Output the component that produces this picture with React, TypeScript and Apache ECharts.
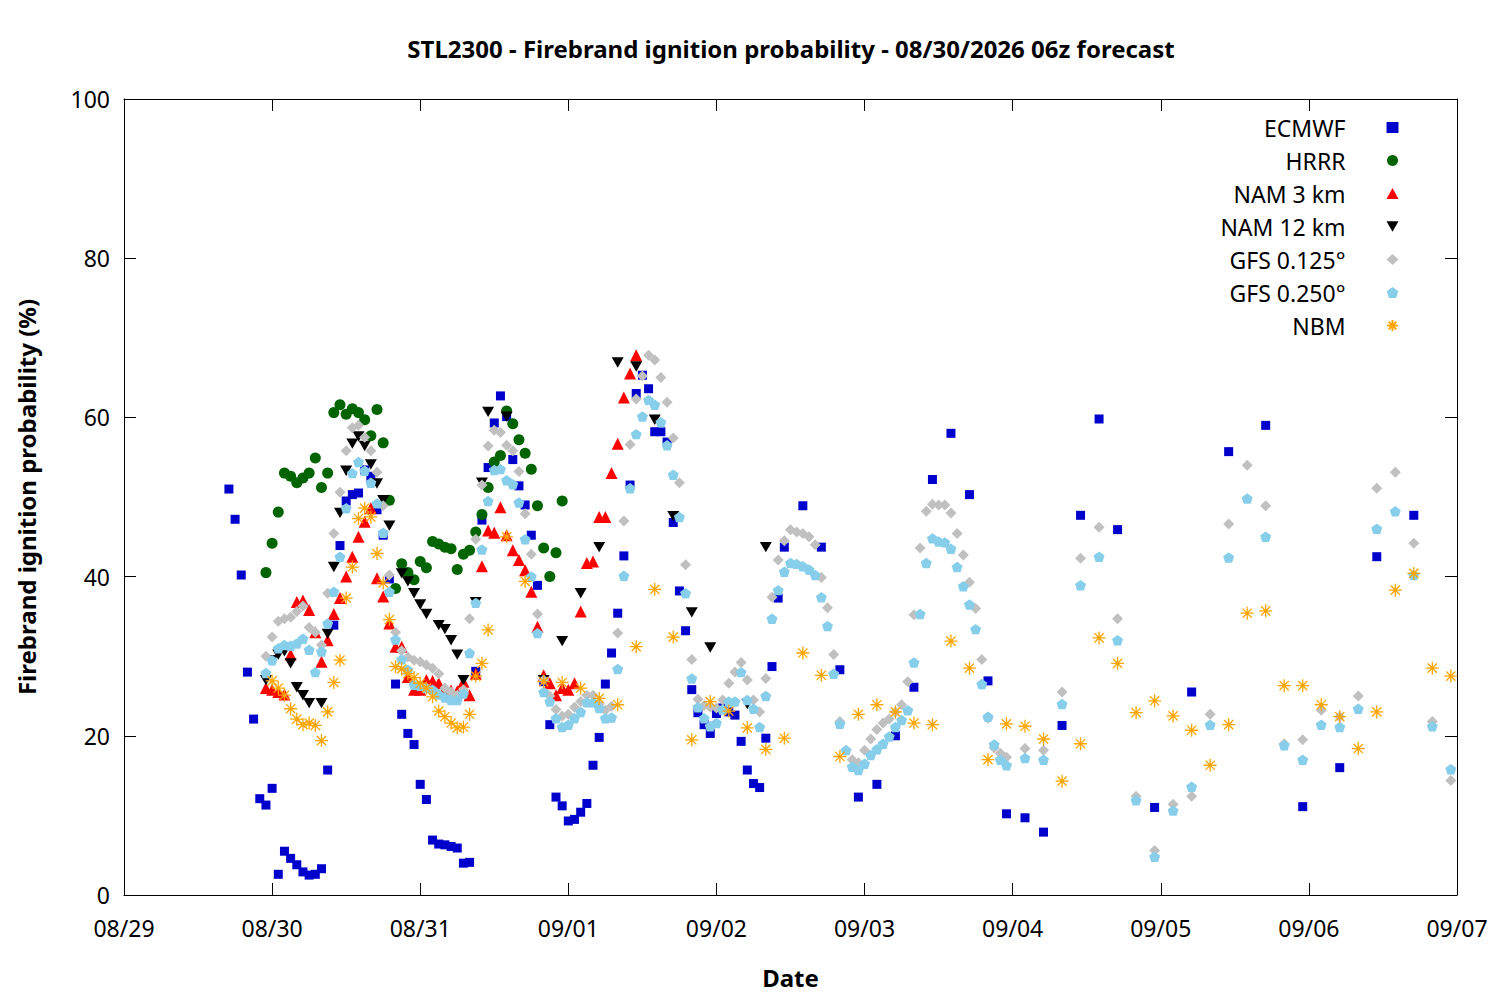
import React, { useEffect, useRef } from "react";
import * as echarts from "echarts";

// hours since 08/29 00z
const DATE_LABELS = ["08/29", "08/30", "08/31", "09/01", "09/02", "09/03", "09/04", "09/05", "09/06", "09/07"];

const TITLE = "STL2300 - Firebrand ignition probability - 08/30/2026 06z forecast";
const X_NAME = "Date";
const Y_NAME = "Firebrand ignition probability (%)";

const ECMWF: [number, number][] = [
  [17, 51.0], [18, 47.2], [19, 40.2], [20, 28.0], [21, 22.1], [22, 12.1], [23, 11.3], [24, 13.4], [25, 2.6], [26, 5.5],
  [27, 4.6], [28, 3.8], [29, 2.9], [30, 2.5], [31, 2.6], [32, 3.3], [33, 15.7], [34, 33.9], [35, 43.9], [36, 49.5],
  [37, 50.3], [38, 50.5], [39, 53.4], [40, 52.6], [41, 48.4], [42, 45.2], [43, 39.7], [44, 26.5], [45, 22.7], [46, 20.3],
  [47, 18.9], [48, 13.9], [49, 12.0], [50, 6.9], [51, 6.4], [52, 6.3], [53, 6.1], [54, 5.9], [55, 4.0], [56, 4.1],
  [57, 28.1], [58, 47.1], [59, 53.7], [60, 59.3], [61, 62.7], [62, 60.1], [63, 54.7], [64, 51.4], [65, 49.0], [66, 45.2],
  [67, 38.9], [68, 26.8], [69, 21.4], [70, 12.3], [71, 11.2], [72, 9.3], [73, 9.5], [74, 10.4], [75, 11.5], [76, 16.3],
  [77, 19.8], [78, 26.5], [79, 30.4], [80, 35.4], [81, 42.6], [82, 51.5], [83, 63.0], [84, 65.3], [85, 63.6], [86, 58.2],
  [87, 58.2], [88, 56.9], [89, 46.8], [90, 38.2], [91, 33.2], [92, 25.8], [93, 22.9], [94, 21.4], [95, 20.3], [96, 22.8],
  [97, 23.5], [98, 23.0], [99, 22.6], [100, 19.3], [101, 15.7], [102, 14.0], [103, 13.5], [104, 19.7], [105, 28.7],
  [106, 37.3], [107, 43.7], [110, 48.9], [113, 43.7], [116, 28.3], [119, 12.3], [122, 13.9], [125, 20.0], [128, 26.1],
  [131, 52.2], [134, 58.0], [137, 50.3], [140, 26.9], [143, 10.2], [146, 9.7], [149, 7.9], [152, 21.3], [155, 47.7],
  [158, 59.8], [161, 45.9], [167, 11.0], [173, 25.5], [179, 55.7], [185, 59.0], [191, 11.1], [197, 16.0], [203, 42.5],
  [209, 47.7],
];

const HRRR: [number, number][] = [
  [23, 40.5], [24, 44.2], [25, 48.1], [26, 53.0], [27, 52.6], [28, 51.8], [29, 52.4], [30, 53.0], [31, 54.9], [32, 51.2],
  [33, 53.0], [34, 60.6], [35, 61.6], [36, 60.4], [37, 61.1], [38, 60.6], [39, 59.7], [40, 57.7], [41, 61.0], [42, 56.8],
  [43, 49.6], [44, 38.5], [45, 41.6], [46, 40.5], [47, 39.6], [48, 41.9], [49, 41.1], [50, 44.4], [51, 44.1], [52, 43.7],
  [53, 43.5], [54, 40.9], [55, 42.8], [56, 43.3], [57, 45.6], [58, 47.8], [59, 51.2], [60, 54.4], [61, 55.2], [62, 60.8],
  [63, 59.2], [64, 57.2], [65, 55.5], [66, 53.5], [67, 48.9], [68, 43.6], [69, 40.0], [70, 43.0], [71, 49.5],
];

const NAM3: [number, number][] = [
  [23, 26.0], [24, 25.8], [25, 25.5], [26, 25.2], [27, 30.2], [28, 36.8], [29, 37.0], [30, 35.8], [31, 33.0], [32, 29.3],
  [33, 32.0], [34, 35.3], [35, 37.3], [36, 40.0], [37, 42.5], [38, 45.0], [39, 46.9], [40, 48.6], [41, 39.8], [42, 37.5],
  [43, 34.1], [44, 31.2], [45, 31.2], [46, 27.4], [47, 25.8], [48, 25.8], [49, 27.0], [50, 26.9], [51, 26.6], [52, 25.9],
  [53, 25.7], [54, 25.6], [55, 26.8], [56, 25.1], [57, 27.8], [58, 41.3], [59, 45.8], [60, 45.5], [61, 48.7], [62, 45.2],
  [63, 43.3], [64, 42.1], [65, 40.8], [66, 38.1], [67, 33.7], [68, 27.6], [69, 26.6], [70, 25.1], [71, 26.0], [72, 25.8],
  [73, 26.6], [74, 35.6], [75, 41.7], [76, 41.9], [77, 47.5], [78, 47.5], [79, 53.0], [80, 56.7], [81, 62.5], [82, 65.5],
  [83, 67.8],
];

const NAM12: [number, number][] = [
  [23, 27.0], [24, 29.5], [25, 30.2], [26, 30.6], [27, 29.1], [28, 26.1], [29, 25.1], [30, 24.1], [32, 24.1], [33, 32.8],
  [34, 41.2], [35, 48.0], [36, 53.3], [37, 56.7], [38, 57.6], [39, 56.4], [40, 54.1], [41, 51.7], [42, 49.6], [43, 46.4],
  [45, 40.4], [46, 39.4], [47, 37.9], [48, 36.5], [49, 35.3], [51, 33.9], [52, 33.4], [53, 32.0], [54, 30.2], [55, 27.0],
  [57, 36.8], [58, 51.8], [59, 60.7], [62, 60.1], [68, 27.0], [71, 31.9], [74, 37.9], [77, 43.7], [80, 66.9], [83, 66.4],
  [86, 59.7], [89, 47.6], [92, 35.5], [95, 31.1], [101, 24.0], [104, 43.7],
];

const GFS0125: [number, number][] = [
  [23, 30.0], [24, 32.4], [25, 34.4], [26, 34.7], [27, 34.9], [28, 35.6], [29, 36.3], [30, 33.6], [31, 33.0], [32, 31.4],
  [33, 37.9], [34, 45.4], [35, 50.6], [36, 55.8], [37, 58.7], [38, 59.0], [39, 57.5], [40, 55.8], [41, 53.1], [42, 48.9],
  [43, 40.2], [44, 33.0], [45, 30.7], [46, 29.9], [47, 29.5], [48, 29.3], [49, 28.9], [50, 28.5], [51, 27.8], [52, 26.0],
  [53, 25.5], [54, 25.1], [55, 25.8], [56, 34.7], [57, 44.7], [58, 51.5], [59, 56.4], [60, 58.4], [61, 58.1], [62, 56.5],
  [63, 55.8], [64, 53.2], [65, 47.9], [66, 42.8], [67, 35.3], [68, 27.0], [69, 25.0], [70, 23.3], [71, 22.5], [72, 22.7],
  [73, 23.6], [74, 24.3], [75, 25.1], [76, 25.1], [77, 24.0], [78, 23.2], [79, 23.7], [80, 32.9], [81, 47.0], [82, 56.6],
  [83, 62.3], [84, 65.2], [85, 67.8], [86, 67.2], [87, 65.0], [88, 61.9], [89, 57.4], [90, 51.8], [91, 41.5], [92, 29.6],
  [93, 24.6], [94, 23.8], [95, 23.6], [96, 23.5], [97, 24.5], [98, 26.6], [99, 28.0], [100, 29.2], [101, 27.0], [102, 24.5],
  [103, 23.0], [104, 27.2], [105, 37.4], [106, 42.1], [107, 44.5], [108, 45.9], [109, 45.6], [110, 45.4], [111, 45.0],
  [112, 44.0], [113, 39.9], [114, 36.1], [115, 30.2], [116, 21.8], [117, 18.2], [118, 17.0], [119, 16.6], [120, 18.2],
  [121, 19.6], [122, 20.8], [123, 21.6], [124, 22.1], [125, 23.0], [126, 23.9], [127, 26.8], [128, 35.2], [129, 43.6],
  [130, 48.2], [131, 49.1], [132, 49.0], [133, 49.0], [134, 48.0], [135, 45.4], [136, 42.7], [137, 39.3], [138, 36.0],
  [139, 29.6], [140, 22.2], [141, 18.5], [142, 17.8], [143, 17.3], [146, 18.4], [149, 18.2], [152, 25.5], [155, 42.3],
  [158, 46.2], [161, 34.7], [164, 12.4], [167, 5.6], [170, 11.4], [173, 12.4], [176, 22.7], [179, 46.6], [182, 54.0],
  [185, 48.9], [188, 19.0], [191, 19.5], [194, 23.2], [197, 22.4], [200, 25.0], [203, 51.1], [206, 53.1], [209, 44.2],
  [212, 21.8], [215, 14.4],
];

const GFS0250: [number, number][] = [
  [23, 27.9], [24, 29.5], [25, 31.0], [26, 31.4], [27, 31.3], [28, 31.6], [29, 32.2], [30, 30.8], [31, 28.0], [32, 30.6],
  [33, 34.1], [34, 38.1], [35, 42.5], [36, 48.6], [37, 53.0], [38, 54.4], [39, 53.3], [40, 51.8], [41, 49.2], [42, 45.5],
  [43, 38.1], [44, 32.1], [45, 29.6], [46, 28.3], [47, 26.4], [48, 26.3], [49, 26.0], [50, 25.8], [51, 25.2], [52, 24.8],
  [53, 24.5], [54, 24.5], [55, 25.3], [56, 30.4], [57, 36.7], [58, 43.4], [59, 49.5], [60, 53.4], [61, 53.5], [62, 52.1],
  [63, 51.6], [64, 49.3], [65, 44.7], [66, 40.0], [67, 32.9], [68, 25.5], [69, 24.3], [70, 22.2], [71, 21.1], [72, 21.4],
  [73, 22.2], [74, 23.0], [75, 24.2], [76, 24.2], [77, 23.5], [78, 22.2], [79, 22.3], [80, 28.4], [81, 40.1], [82, 51.1],
  [83, 57.9], [84, 60.1], [85, 62.2], [86, 61.6], [87, 59.4], [88, 56.5], [89, 52.8], [90, 47.5], [91, 37.9], [92, 27.2],
  [93, 23.6], [94, 22.2], [95, 21.2], [96, 21.6], [97, 23.3], [98, 24.3], [99, 24.3], [100, 28.0], [101, 24.5], [102, 23.4],
  [103, 21.1], [104, 25.0], [105, 34.7], [106, 38.3], [107, 40.6], [108, 41.7], [109, 41.6], [110, 41.3], [111, 40.9],
  [112, 40.2], [113, 37.4], [114, 33.8], [115, 27.8], [116, 21.5], [117, 18.2], [118, 16.1], [119, 15.7], [120, 16.5],
  [121, 17.6], [122, 18.3], [123, 19.0], [124, 19.9], [125, 21.1], [126, 22.0], [127, 23.2], [128, 29.2], [129, 35.3],
  [130, 41.7], [131, 44.8], [132, 44.4], [133, 44.3], [134, 43.5], [135, 41.2], [136, 38.8], [137, 36.5], [138, 33.4],
  [139, 26.5], [140, 22.4], [141, 18.9], [142, 17.0], [143, 16.3], [146, 17.2], [149, 17.0], [152, 24.0], [155, 38.9],
  [158, 42.5], [161, 32.0], [164, 11.9], [167, 4.8], [170, 10.6], [173, 13.6], [176, 21.4], [179, 42.4], [182, 49.8],
  [185, 45.0], [188, 18.8], [191, 17.0], [194, 21.4], [197, 21.1], [200, 23.4], [203, 46.0], [206, 48.2], [209, 40.2],
  [212, 21.2], [215, 15.8],
];

const NBM: [number, number][] = [
  [24, 26.9], [25, 26.0], [26, 25.1], [27, 23.4], [28, 22.1], [29, 21.4], [30, 21.6], [31, 21.3], [32, 19.4], [33, 23.0],
  [34, 26.7], [35, 29.5], [36, 37.3], [37, 41.2], [38, 47.3], [39, 48.6], [40, 47.5], [41, 42.9], [42, 39.2], [43, 34.6],
  [44, 28.7], [45, 28.4], [46, 27.8], [47, 27.3], [48, 26.6], [49, 26.0], [50, 24.9], [51, 23.1], [52, 22.4], [53, 21.6],
  [54, 21.0], [55, 21.1], [56, 22.7], [57, 27.5], [58, 29.1], [59, 33.3], [62, 45.0], [65, 39.4], [68, 26.8], [71, 26.7],
  [74, 26.0], [77, 24.7], [80, 23.9], [83, 31.2], [86, 38.4], [89, 32.4], [92, 19.5], [95, 24.3], [98, 23.1], [101, 21.0],
  [104, 18.3], [107, 19.7], [110, 30.4], [113, 27.6], [116, 17.4], [119, 22.7], [122, 23.9], [125, 23.0], [128, 21.6],
  [131, 21.4], [134, 31.9], [137, 28.5], [140, 17.0], [143, 21.5], [146, 21.2], [149, 19.6], [152, 14.3], [155, 19.0],
  [158, 32.3], [161, 29.1], [164, 22.9], [167, 24.4], [170, 22.5], [173, 20.7], [176, 16.3], [179, 21.4], [182, 35.4],
  [185, 35.7], [188, 26.3], [191, 26.3], [194, 23.9], [197, 22.4], [200, 18.4], [203, 23.0], [206, 38.3], [209, 40.4],
  [212, 28.5], [215, 27.5],
];

const SERIES_NAMES = ["ECMWF", "HRRR", "NAM 3 km", "NAM 12 km", "GFS 0.125°", "GFS 0.250°", "NBM"];

const FONT = "'Noto Sans', 'Open Sans', sans-serif";
const PENTAGON = "path://M0,-100L95.1,-30.9L58.8,80.9L-58.8,80.9L-95.1,-30.9Z";
const ASTERISK = "path://M0,-10L0,10M-10,0L10,0M-7.07,-7.07L7.07,7.07M-7.07,7.07L7.07,-7.07";
const DOWN_TRIANGLE = "path://M0,0L100,0L50,86.6Z";

function scatter(name: string, data: [number, number][], symbol: string, size: number, color: string, extra: any = {}) {
  return {
    type: "scatter",
    name,
    data,
    symbol,
    symbolSize: size,
    symbolKeepAspect: true,
    itemStyle: { color, opacity: 1 },
    silent: true,
    emphasis: { disabled: true },
    ...extra,
  };
}

export default function App() {
  const ref = useRef<HTMLDivElement>(null);
  useEffect(() => {
    const chart = echarts.init(ref.current!, null, { renderer: "svg" });
    const tickCommon = { show: true, inside: true, length: 12, lineStyle: { color: "#000", width: 1 } };
    const lineCommon = { show: true, onZero: false, lineStyle: { color: "#000", width: 1 } };
    const xBase = { type: "value", min: 0, max: 216, interval: 24, splitLine: { show: false }, axisLine: lineCommon, axisTick: tickCommon };
    const yBase = { type: "value", min: 0, max: 100, interval: 20, splitLine: { show: false }, axisLine: lineCommon, axisTick: tickCommon };
    chart.setOption({
      animation: false,
      backgroundColor: "#fff",
      textStyle: { fontFamily: FONT },
      title: {
        text: TITLE,
        left: 786,
        top: 31,
        textAlign: "center",
        textStyle: { fontFamily: FONT, fontSize: 24, fontWeight: "bold", color: "#000" },
      },
      legend: {
        orient: "vertical",
        right: 96,
        top: 111,
        align: "right",
        itemWidth: 12,
        itemHeight: 11,
        itemGap: 10,
        data: SERIES_NAMES.map((n) => (n === "NAM 12 km" ? { name: n, icon: DOWN_TRIANGLE } : { name: n })),
        textStyle: { fontFamily: FONT, fontSize: 23, color: "#000", lineHeight: 23, padding: [0, 36, 0, 0] },
        selectedMode: false,
      },
      grid: { left: 124, right: 43, top: 99, bottom: 105, containLabel: false },
      xAxis: [
        {
          ...xBase,
          position: "bottom",
          name: X_NAME,
          nameLocation: "middle",
          nameGap: 70,
          nameTextStyle: { fontFamily: FONT, fontSize: 24, fontWeight: "bold", color: "#000" },
          axisLabel: {
            show: true,
            margin: 21,
            fontSize: 23,
            color: "#000",
            fontFamily: FONT,
            showMinLabel: true,
            showMaxLabel: true,
            formatter: (v: number) => DATE_LABELS[Math.round(v / 24)] ?? "",
          },
        },
        { ...xBase, position: "top", axisLabel: { show: false } },
      ],
      yAxis: [
        {
          ...yBase,
          position: "left",
          name: Y_NAME,
          nameLocation: "middle",
          nameGap: 86,
          nameTextStyle: { fontFamily: FONT, fontSize: 24, fontWeight: "bold", color: "#000" },
          axisLabel: { show: true, margin: 14, fontSize: 23, color: "#000", fontFamily: FONT },
        },
        { ...yBase, position: "right", axisLabel: { show: false } },
      ],
      series: [
        scatter(SERIES_NAMES[0], ECMWF, "rect", 9, "#0000cc"),
        scatter(SERIES_NAMES[1], HRRR, "circle", 11, "#006400"),
        scatter(SERIES_NAMES[2], NAM3, "triangle", 12, "#ff0000"),
        scatter(SERIES_NAMES[3], NAM12, DOWN_TRIANGLE, 12, "#000000"),
        scatter(SERIES_NAMES[4], GFS0125, "diamond", 11, "#c0c0c0"),
        scatter(SERIES_NAMES[5], GFS0250, PENTAGON, 11, "#87ceeb"),
        scatter(SERIES_NAMES[6], NBM, ASTERISK, 13, "#ffa500", {
          itemStyle: { color: "#ffa500", borderColor: "#ffa500", borderWidth: 1.3, opacity: 1 },
        }),
      ],
    });
    return () => chart.dispose();
  }, []);
  return (
    <div
      ref={ref}
      style={{ position: "absolute", left: 0, top: 0, width: 1500, height: 1000, background: "#fff" }}
    />
  );
}
